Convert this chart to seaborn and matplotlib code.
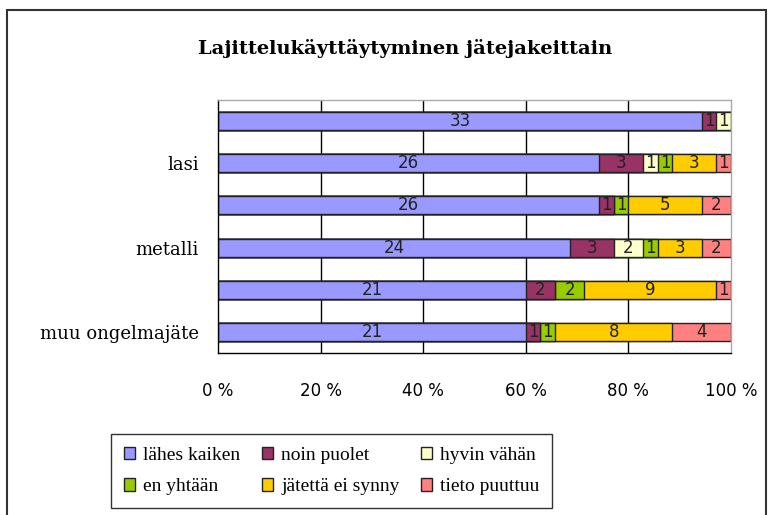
import pandas as pd
import seaborn as sns
import matplotlib.pyplot as plt
from matplotlib.patches import Rectangle, Patch
from matplotlib.ticker import FixedLocator

# rows top to bottom; only every other label is shown in the chart
categories = ["rivi 1", "lasi", "rivi 3", "metalli", "rivi 5", "muu ongelmajäte"]
shown_labels = ["", "lasi", "", "metalli", "", "muu ongelmajäte"]

series = ["lähes kaiken", "noin puolet", "hyvin vähän",
          "en yhtään", "jätettä ei synny", "tieto puuttuu"]
colors = ["#9999FF", "#993366", "#FFFFCC", "#99CC00", "#FFCC00", "#FF8080"]

lahes_kaiken = [33, 26, 26, 24, 21, 21]
noin_puolet = [1, 3, 1, 3, 2, 1]
hyvin_vahan = [1, 1, 0, 2, 0, 0]
en_yhtaan = [0, 1, 1, 1, 2, 1]
ei_synny = [0, 3, 5, 3, 9, 8]
tieto_puuttuu = [0, 1, 2, 2, 1, 4]

df = pd.DataFrame({
    "lähes kaiken": lahes_kaiken,
    "noin puolet": noin_puolet,
    "hyvin vähän": hyvin_vahan,
    "en yhtään": en_yhtaan,
    "jätettä ei synny": ei_synny,
    "tieto puuttuu": tieto_puuttuu,
}, index=categories)

pct = df.div(df.sum(axis=1), axis=0) * 100
cum = pct.cumsum(axis=1)

sns.set_style("white")
plt.rcParams["text.color"] = "black"
plt.rcParams["xtick.color"] = "black"
plt.rcParams["ytick.color"] = "black"

fig = plt.figure(figsize=(7.74, 5.15), dpi=100)
ax = fig.add_axes([218 / 774, 1 - 353 / 515, (731 - 218) / 774, (353 - 100) / 515])

# gridlines behind the bars
for x in [20, 40, 60, 80]:
    ax.axvline(x, color="black", lw=1, zorder=0)

# stacked bars: draw cumulative totals from the last series to the first
for i in range(len(series) - 1, -1, -1):
    col = series[i]
    tmp = pd.DataFrame({"cat": categories, "val": cum[col].values})
    sns.barplot(data=tmp, x="val", y="cat", order=categories, color=colors[i],
                saturation=1, width=0.43, edgecolor="#222222", linewidth=1,
                ax=ax, zorder=2)

# data labels in the middle of each segment
for r, cat in enumerate(categories):
    for i, col in enumerate(series):
        v = df.loc[cat, col]
        if v == 0:
            continue
        xc = cum.loc[cat, col] - pct.loc[cat, col] / 2
        ax.text(xc, r, str(v), ha="center", va="center", fontsize=12,
                color="#222222", family="DejaVu Sans", zorder=5)

ax.set_xlim(0, 100)
ax.set_ylim(len(categories) - 0.5, -0.5)
ax.set_xticks([0, 20, 40, 60, 80, 100])
ax.set_xticklabels([f"{t} %" for t in [0, 20, 40, 60, 80, 100]],
                   fontsize=12, family="DejaVu Sans")
ax.set_yticks(range(len(categories)))
ax.set_yticklabels(shown_labels, fontsize=13, family="DejaVu Serif")
ax.yaxis.set_minor_locator(FixedLocator([r - 0.5 for r in range(len(categories) + 1)]))
ax.tick_params(axis="y", which="major", length=0, pad=14)
ax.tick_params(axis="y", which="minor", length=8, width=1, color="black", direction="out")
ax.tick_params(axis="x", which="major", length=5, width=1, color="black",
               direction="out", pad=16)
ax.set_xlabel("")
ax.set_ylabel("")

for s in ["left", "bottom"]:
    ax.spines[s].set_color("black")
    ax.spines[s].set_linewidth(1)
for s in ["top", "right"]:
    ax.spines[s].set_color("#aaaaaa")
    ax.spines[s].set_linewidth(1)

fig.text(405 / 774, 1 - 48 / 515, "Lajittelukäyttäytyminen jätejakeittain",
         ha="center", va="center", fontsize=14, fontweight="bold",
         family="DejaVu Serif", color="black")

# legend is filled row by row in the reference
handles = [Patch(facecolor=c, edgecolor="#222222", label=s)
           for s, c in zip(series, colors)]
order = [0, 3, 1, 4, 2, 5]
leg = fig.legend(handles=[handles[k] for k in order], ncol=3, loc="upper left",
                 bbox_to_anchor=(111 / 774, 1 - 434 / 515),
                 prop={"family": "Liberation Serif", "size": 14},
                 frameon=True, fancybox=False, edgecolor="black",
                 handlelength=0.6, handleheight=0.6, handletextpad=0.4,
                 columnspacing=1.1, borderpad=0.65, labelspacing=0.75,
                 borderaxespad=0)
leg.get_frame().set_linewidth(1)

# outer chart frame
fig.patches.append(Rectangle((7 / 774, -0.1), (766 - 7) / 774, 1 - 10 / 515 + 0.1,
                             transform=fig.transFigure, fill=False,
                             edgecolor="#333333", linewidth=1.5))

fig.savefig("out.png", dpi=100)
